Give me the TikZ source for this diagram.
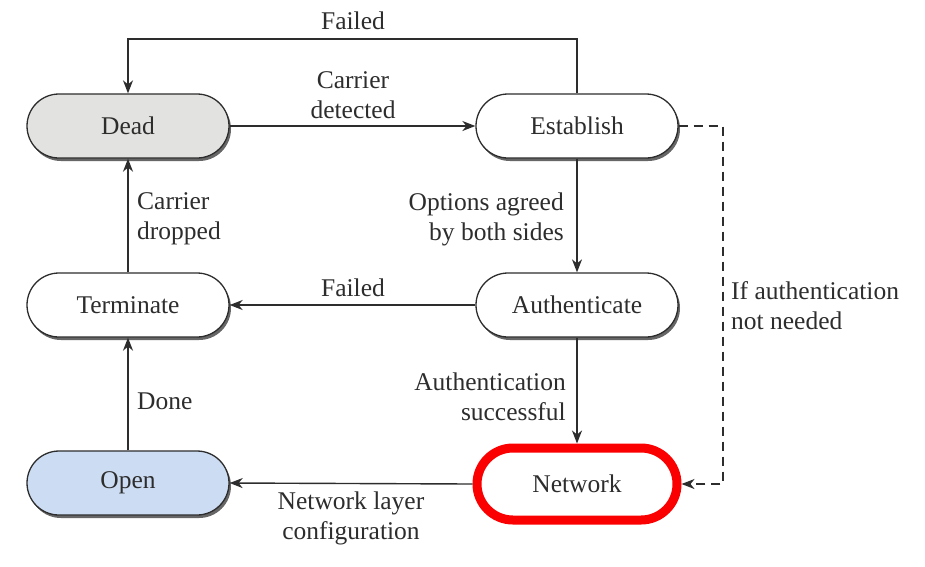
\documentclass[tikz,border=0pt]{standalone}
\usepackage{fontspec}
\setmainfont{Liberation Serif}
\usetikzlibrary{shapes.misc,shadows,arrows.meta}
\definecolor{ink}{RGB}{45,45,45}
\definecolor{deadfill}{RGB}{226,226,224}
\definecolor{openfill}{RGB}{204,220,242}
\definecolor{netred}{RGB}{250,0,0}
\begin{document}
\begin{tikzpicture}[x=1pt,y=-1pt,
  every node/.style={font=\fontsize{25.5}{30}\selectfont, text=ink},
  state/.style={rounded rectangle, draw=ink, line width=1.3pt, fill=white,
    minimum width=202pt, minimum height=64pt, inner sep=0pt,
    drop shadow={shadow xshift=2pt, shadow yshift=-3pt, fill=black!60, opacity=1}},
  netstate/.style={rounded rectangle, draw=netred, line width=9pt, fill=white,
    minimum width=200pt, minimum height=72pt, inner sep=0pt},
  lbl/.style={align=center, inner sep=0pt},
  lbll/.style={align=left, inner sep=0pt},
  lblr/.style={align=right, inner sep=0pt},
  arr/.style={draw=ink, line width=1.4pt, -{Stealth[length=13pt,width=10pt,inset=4pt]}},
  darr/.style={arr, line width=1.6pt, dash pattern=on 9pt off 6pt}
]
\useasboundingbox (0,0) rectangle (925,566);
\fill[white] (0,0) rectangle (925,566);

\node[state, fill=deadfill] (Dead) at (128,126) {Dead};
\node[state] (Establish) at (577,126) {Establish};
\node[state] (Terminate) at (128,305) {Terminate};
\node[state] (Authenticate) at (577,305) {Authenticate};
\node[state, fill=openfill] (Open) at (128,483) {Open};
\node[netstate] (Network) at (577,484) {Network};

\coordinate (ftop) at (353,39);
\coordinate (dcorner) at (723,126);

\draw[arr] (Dead.east) -- (Establish.west);
\draw[arr] (Establish.north) |- (ftop) -| (Dead.north);
\draw[arr] (Establish.south) -- (Authenticate.north);
\draw[arr] (Authenticate.west) -- (Terminate.east);
\draw[arr] (Terminate.north) -- (Dead.south);
\draw[arr] (Authenticate.south) -- (Network.north);
\draw[arr] (Network.west) -- (Open.east);
\draw[arr] (Open.north) -- (Terminate.south);
\draw[darr] (Establish.east) -- (dcorner) |- (Network.east);

\node[lbl] (lfail1) at (353,21) {Failed};
\node[lbl] (lcd) at (353,95) {Carrier\\detected};
\node[lblr, anchor=east] (lopt) at (564,219) {Options agreed\\by both sides};
\node[lbll, anchor=west] (lcdrop) at (137,219) {Carrier\\dropped};
\node[lbl] (lfail2) at (353,288) {Failed};
\node[lbll, anchor=west] (lnoauth) at (731,306) {If authentication\\not needed};
\node[lbll, anchor=west] (ldone) at (137,401) {Done};
\node[lblr, anchor=east] (lauth) at (566,397) {Authentication\\successful};
\node[lbl] (lnlc) at (351,518) {Network layer\\configuration};
\end{tikzpicture}
\end{document}
